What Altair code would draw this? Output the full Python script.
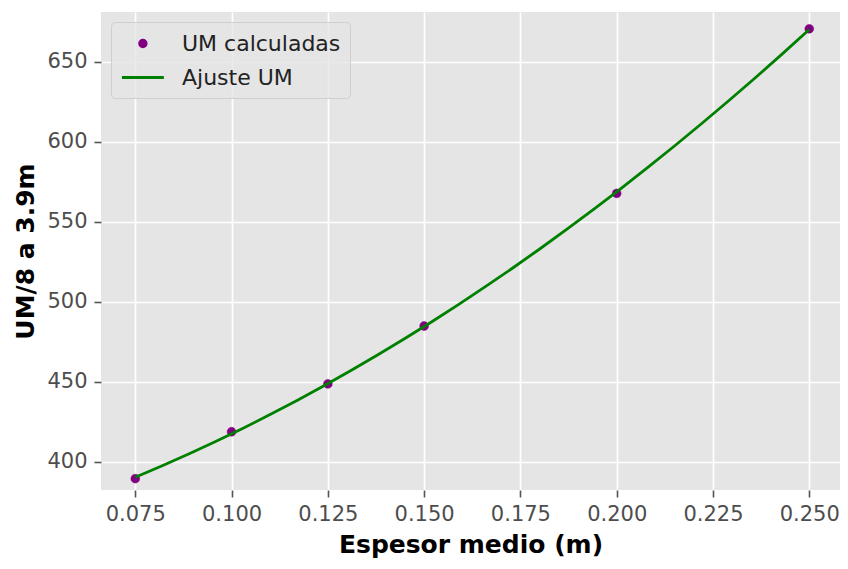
import altair as alt
import pandas as pd

# Data
espesor = [0.075, 0.100, 0.125, 0.150, 0.200, 0.250]
um_calc = [389.4, 418.7, 448.6, 484.8, 567.7, 670.6]
x_ticks = [0.075, 0.100, 0.125, 0.150, 0.175, 0.200, 0.225, 0.250]
y_ticks = [400, 450, 500, 550, 600, 650]
series_names = ["UM calculadas", "Ajuste UM"]
series_colors = ["#800080", "#008000"]

df = pd.DataFrame({"x": espesor, "y": um_calc})

FONT = "DejaVu Sans"
# legend handle shapes (unit = half the legend symbol width)
LEG_CIRCLE = "M0.645,0A0.3,0.3 0 1,0 1.245,0A0.3,0.3 0 1,0 0.645,0Z"
LEG_LINE = "M-0.96,0H2.85"

xscale = alt.Scale(domain=[0.0661, 0.25798], nice=False, zero=False)
yscale = alt.Scale(domain=[382.3, 681.1], nice=False, zero=False)

xaxis = alt.Axis(values=x_ticks, format=".3f", title="Espesor medio (m)")
yaxis = alt.Axis(values=y_ticks, format="d", title="UM/8 a 3.9m")

legend = alt.Legend(
    title=None,
    orient="top-left",
    offset=10,
    padding=9,
    fillColor="rgba(229,229,229,0.8)",
    strokeColor="#CFCFCF",
    cornerRadius=4,
    labelFont=FONT,
    labelFontSize=22,
    labelColor="#222222",
    symbolSize=484,
    symbolStrokeWidth=2.8,
    labelOffset=37,
    rowPadding=10,
)

col_scale = alt.Scale(domain=series_names, range=series_colors)
shape_scale = alt.Scale(domain=series_names, range=[LEG_CIRCLE, LEG_LINE])

X = alt.X("x:Q", scale=xscale, axis=xaxis)
Y = alt.Y("y:Q", scale=yscale, axis=yaxis)

fit = (
    alt.Chart(df)
    .transform_regression("x", "y", method="poly", order=2, extent=[0.075, 0.25])
    .transform_calculate(series="'Ajuste UM'")
    .mark_line(strokeWidth=2.8)
    .encode(x=X, y=Y, stroke=alt.Stroke("series:N", scale=col_scale, legend=legend))
)

pts = (
    alt.Chart(df)
    .transform_calculate(series="'UM calculadas'")
    .mark_point(filled=True, shape="circle", size=78, opacity=1, strokeWidth=0.5)
    .encode(
        x=X,
        y=Y,
        fill=alt.Fill("series:N", scale=col_scale, legend=legend),
        stroke=alt.Stroke("series:N", scale=col_scale, legend=legend),
    )
)

# empty layer that only supplies the legend handle shapes
legend_shapes = (
    alt.Chart(df)
    .transform_filter("false")
    .transform_calculate(series="'UM calculadas'")
    .mark_point(filled=True)
    .encode(
        x=X,
        y=Y,
        fill=alt.Fill("series:N", scale=col_scale, legend=legend),
        stroke=alt.Stroke("series:N", scale=col_scale, legend=legend),
        shape=alt.Shape("series:N", scale=shape_scale, legend=legend),
    )
)

chart = (
    alt.layer(pts, fit, legend_shapes)
    .properties(
        width=739,
        height=478,
        autosize=alt.AutoSizeParams(type="none"),
        padding={"left": 93, "top": 4, "right": 0, "bottom": 71},
        background="white",
    )
    .configure_view(fill="#E5E5E5", stroke=None)
    .configure_axis(
        grid=True,
        gridColor="white",
        gridWidth=1.7,
        domain=False,
        tickColor="#555555",
        tickSize=7,
        tickWidth=1.6,
        labelFont=FONT,
        labelFontSize=21,
        labelColor="#4D4D4D",
        titleFont=FONT,
        titleFontSize=25,
        titleFontWeight="bold",
        titleColor="black",
    )
    .configure_axisX(labelPadding=6, titlePadding=8)
    .configure_axisY(labelPadding=7, titlePadding=8)
)

chart.save("out.html", embed_options={"renderer": "svg", "actions": False})
